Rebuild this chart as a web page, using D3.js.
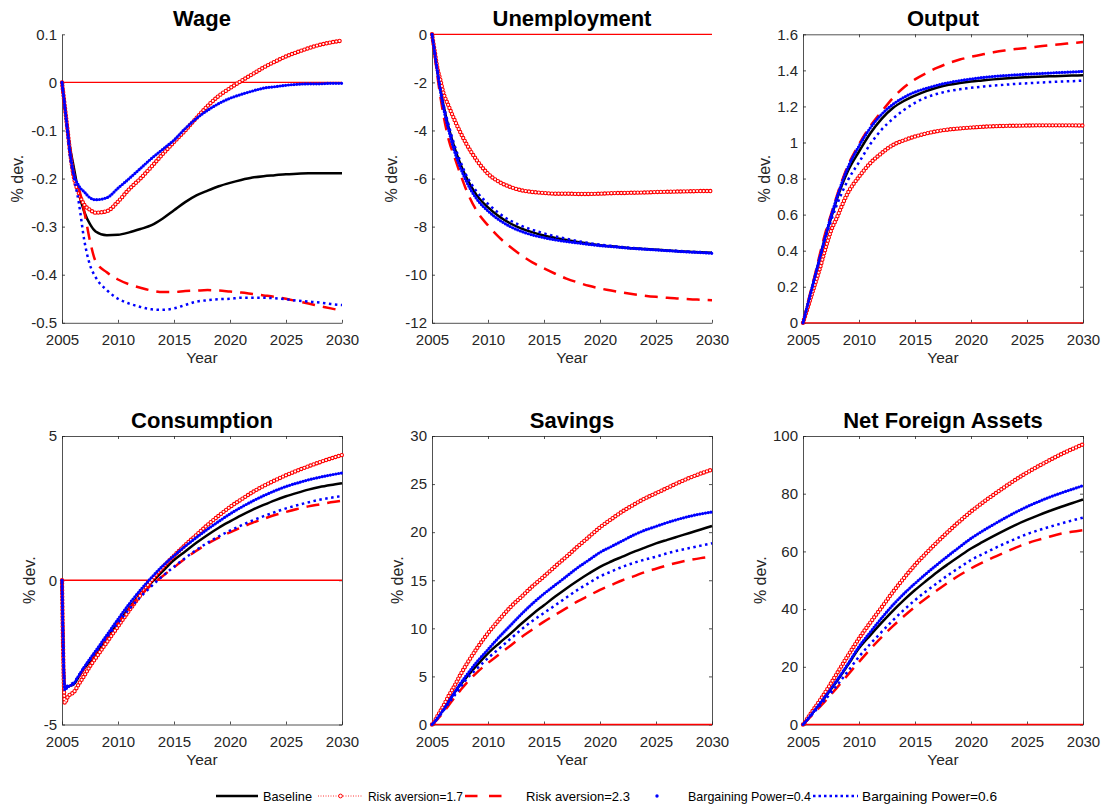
<!DOCTYPE html>
<html><head><meta charset="utf-8">
<script src="https://cdn.jsdelivr.net/npm/d3@7"></script>
<style>
body{margin:0;background:#fff}
svg{display:block}
text{font-family:"Liberation Sans",Arial,Helvetica,sans-serif}
</style>
</head><body>
<svg id="chart" width="1103" height="807"></svg>
<script>
// ---------------- DATA ----------------
const years = [2005, 2005.25, 2005.5, 2005.75, 2006, 2006.5, 2007, 2007.5, 2008,
  2009, 2010, 2011, 2012, 2013, 2014, 2015, 2016, 2017, 2018, 2019, 2020,
  2021, 2022, 2023, 2024, 2025, 2026, 2027, 2028, 2029, 2030];
const xTicks = [2005, 2010, 2015, 2020, 2025, 2030];
const seriesNames = ["Baseline", "Risk aversion=1.7", "Risk aversion=2.3", "Bargaining Power=0.4", "Bargaining Power=0.6"];
const panelTitles = ["Wage", "Unemployment", "Output", "Consumption", "Savings", "Net Foreign Assets"];
const yLabel = "% dev.";
const xLabel = "Year";

// Wage
const wageBase = [0,-0.05,-0.1,-0.14,-0.17,-0.23,-0.27,-0.295,-0.31,-0.318,-0.317,-0.312,-0.305,-0.297,-0.283,-0.266,-0.249,-0.235,-0.225,-0.216,-0.209,-0.203,-0.198,-0.195,-0.193,-0.191,-0.19,-0.189,-0.189,-0.189,-0.189];
const wageRA17 = [0,-0.05,-0.1,-0.15,-0.19,-0.23,-0.255,-0.265,-0.271,-0.268,-0.248,-0.222,-0.2,-0.175,-0.149,-0.124,-0.1,-0.074,-0.049,-0.028,-0.012,0.003,0.017,0.031,0.043,0.054,0.063,0.071,0.078,0.083,0.087];
const wageRA23 = [0,-0.05,-0.1,-0.15,-0.185,-0.22,-0.27,-0.33,-0.372,-0.395,-0.41,-0.42,-0.427,-0.433,-0.436,-0.436,-0.434,-0.433,-0.432,-0.433,-0.435,-0.437,-0.44,-0.443,-0.446,-0.45,-0.455,-0.46,-0.465,-0.47,-0.475];
const wageBP04 = [0,-0.05,-0.1,-0.15,-0.185,-0.215,-0.228,-0.24,-0.244,-0.24,-0.22,-0.2,-0.179,-0.158,-0.139,-0.12,-0.096,-0.075,-0.058,-0.044,-0.033,-0.025,-0.018,-0.012,-0.009,-0.006,-0.004,-0.003,-0.003,-0.002,-0.002];
const wageBP06 = [0,-0.05,-0.11,-0.16,-0.19,-0.25,-0.33,-0.38,-0.405,-0.432,-0.45,-0.46,-0.467,-0.472,-0.473,-0.47,-0.463,-0.456,-0.453,-0.451,-0.45,-0.448,-0.448,-0.448,-0.449,-0.451,-0.454,-0.456,-0.458,-0.461,-0.463];
const wageTicks = [-0.5,-0.4,-0.3,-0.2,-0.1,0,0.1];

// Unemployment
const unempBase = [0,-0.8,-1.6,-2.3,-2.9,-3.9,-4.7,-5.35,-5.9,-6.7,-7.2,-7.58,-7.87,-8.08,-8.24,-8.37,-8.47,-8.56,-8.64,-8.71,-8.77,-8.82,-8.86,-8.9,-8.93,-8.96,-8.99,-9.02,-9.04,-9.07,-9.09];
const unempRA17 = [0,-0.73,-1.45,-1.9,-2.4,-3.0,-3.55,-4.05,-4.5,-5.24,-5.8,-6.14,-6.35,-6.49,-6.56,-6.6,-6.63,-6.63,-6.64,-6.64,-6.63,-6.61,-6.6,-6.59,-6.58,-6.56,-6.55,-6.54,-6.53,-6.52,-6.52];
const unempRA23 = [0,-0.9,-1.8,-2.6,-3.3,-4.4,-5.1,-5.78,-6.4,-7.35,-7.95,-8.45,-8.85,-9.2,-9.5,-9.74,-9.96,-10.16,-10.32,-10.46,-10.57,-10.66,-10.74,-10.81,-10.87,-10.92,-10.96,-10.99,-11.02,-11.04,-11.06];
const unempBP04 = [0,-0.8,-1.6,-2.35,-3.0,-4.0,-4.85,-5.5,-6.05,-6.85,-7.35,-7.72,-8.0,-8.2,-8.35,-8.46,-8.55,-8.62,-8.68,-8.74,-8.79,-8.83,-8.87,-8.91,-8.94,-8.97,-9.0,-9.03,-9.06,-9.08,-9.11];
const unempBP06 = [0,-0.75,-1.55,-2.25,-2.85,-3.8,-4.6,-5.25,-5.8,-6.55,-7.05,-7.45,-7.75,-7.97,-8.14,-8.28,-8.4,-8.5,-8.6,-8.68,-8.75,-8.8,-8.85,-8.89,-8.93,-8.96,-8.99,-9.01,-9.04,-9.06,-9.08];
const unempTicks = [-12,-10,-8,-6,-4,-2,0];

// Output
const outBase = [0,0.06,0.12,0.18,0.24,0.36,0.48,0.58,0.68,0.84,0.95,1.05,1.13,1.19,1.23,1.26,1.285,1.305,1.32,1.33,1.338,1.344,1.35,1.355,1.359,1.362,1.365,1.367,1.369,1.371,1.373];
const outRA17 = [0,0.05,0.1,0.15,0.2,0.3,0.41,0.51,0.58,0.72,0.81,0.885,0.94,0.985,1.012,1.033,1.05,1.063,1.072,1.078,1.083,1.087,1.09,1.092,1.093,1.094,1.095,1.095,1.095,1.095,1.094];
const outRA23 = [0,0.065,0.13,0.19,0.25,0.38,0.5,0.6,0.7,0.87,0.99,1.09,1.17,1.245,1.305,1.35,1.385,1.415,1.44,1.46,1.475,1.488,1.5,1.51,1.518,1.525,1.532,1.539,1.545,1.551,1.557];
const outBP04 = [0,0.06,0.12,0.18,0.24,0.36,0.48,0.59,0.69,0.86,0.98,1.08,1.155,1.21,1.25,1.28,1.3,1.318,1.332,1.343,1.352,1.36,1.366,1.371,1.375,1.379,1.382,1.385,1.388,1.391,1.394];
const outBP06 = [0,0.06,0.12,0.18,0.24,0.36,0.47,0.565,0.65,0.79,0.89,0.99,1.07,1.13,1.18,1.22,1.25,1.27,1.285,1.295,1.303,1.31,1.316,1.32,1.325,1.328,1.332,1.335,1.338,1.34,1.343];
const outTicks = [0,0.2,0.4,0.6,0.8,1,1.2,1.4,1.6];

// Consumption
const consBase = [0,-3.75,-3.7,-3.65,-3.62,-3.35,-3.05,-2.8,-2.55,-2.02,-1.48,-0.95,-0.48,-0.07,0.32,0.7,1.0,1.3,1.57,1.82,2.04,2.25,2.44,2.61,2.77,2.91,3.03,3.14,3.23,3.3,3.36];
const consRA17 = [0,-4.25,-4.05,-3.95,-3.9,-3.6,-3.3,-2.98,-2.7,-2.15,-1.6,-1.05,-0.52,0.0,0.45,0.85,1.22,1.57,1.92,2.24,2.54,2.8,3.05,3.27,3.46,3.64,3.8,3.95,4.09,4.22,4.34];
const consRA23 = [0,-3.75,-3.7,-3.65,-3.6,-3.35,-3.05,-2.78,-2.5,-1.98,-1.47,-0.98,-0.53,-0.15,0.15,0.45,0.75,1.02,1.27,1.48,1.66,1.83,1.99,2.13,2.26,2.37,2.47,2.56,2.63,2.7,2.76];
const consBP04 = [0,-3.8,-3.7,-3.65,-3.6,-3.3,-3.0,-2.72,-2.45,-1.9,-1.35,-0.82,-0.34,0.1,0.5,0.85,1.18,1.48,1.77,2.04,2.3,2.53,2.74,2.93,3.1,3.25,3.37,3.48,3.57,3.65,3.72];
const consBP06 = [0,-3.7,-3.65,-3.6,-3.55,-3.3,-3.0,-2.75,-2.5,-1.98,-1.48,-1.0,-0.58,-0.2,0.15,0.47,0.77,1.05,1.3,1.52,1.72,1.9,2.07,2.22,2.36,2.49,2.6,2.7,2.79,2.86,2.92];
const consTicks = [-5,0,5];

// Savings
const savBase = [0,0.3,0.7,1.1,1.5,2.4,3.3,4.1,4.8,6.15,7.4,8.45,9.45,10.5,11.5,12.4,13.3,14.15,14.95,15.7,16.4,16.95,17.45,17.95,18.4,18.83,19.2,19.56,19.92,20.28,20.64];
const savRA17 = [0,0.4,0.9,1.4,1.9,3.0,4.0,5.1,6.1,7.9,9.5,10.9,12.2,13.3,14.4,15.4,16.45,17.45,18.5,19.5,20.5,21.35,22.15,22.85,23.5,24.05,24.6,25.15,25.65,26.1,26.5];
const savRA23 = [0,0.25,0.55,0.9,1.25,2.0,2.8,3.5,4.2,5.4,6.4,7.3,8.2,9.1,9.9,10.7,11.4,12.1,12.8,13.4,14.0,14.5,15.0,15.4,15.85,16.2,16.55,16.85,17.1,17.3,17.45];
const savBP04 = [0,0.3,0.7,1.1,1.5,2.4,3.3,4.2,5.0,6.5,7.8,9.1,10.3,11.5,12.6,13.6,14.5,15.4,16.3,17.1,17.9,18.5,19.1,19.7,20.2,20.6,21.0,21.35,21.65,21.9,22.1];
const savBP06 = [0,0.3,0.65,1.0,1.4,2.2,3.0,3.8,4.6,5.8,6.9,7.9,8.9,9.9,10.8,11.6,12.4,13.2,14.0,14.7,15.4,15.9,16.4,16.8,17.15,17.45,17.8,18.1,18.35,18.6,18.85];
const savTicks = [0,5,10,15,20,25,30];

// Net Foreign Assets
const nfaBase = [0,1.1,2.3,3.5,4.7,7.1,9.6,12.2,14.9,20.6,26.4,30.9,35.2,39.3,43.1,46.6,49.8,52.9,55.7,58.4,61.0,63.2,65.3,67.3,69.2,70.9,72.5,74.0,75.4,76.7,78.0];
const nfaRA17 = [0,1.3,2.7,4.1,5.5,8.3,11.2,14.3,17.5,23.8,29.8,35.3,40.5,45.8,50.7,55.3,59.4,63.3,67.0,70.5,73.8,76.8,79.6,82.3,84.9,87.3,89.5,91.6,93.6,95.4,97.1];
const nfaRA23 = [0,1.0,2.0,3.0,4.0,6.1,8.2,10.4,12.6,17.2,21.7,26.1,30.2,34.0,37.5,40.8,43.8,46.6,49.3,51.8,54.1,56.1,57.9,59.6,61.3,62.8,64.0,65.1,66.1,66.8,67.4];
const nfaBP04 = [0,1.1,2.3,3.5,4.7,7.2,9.8,12.4,15.1,20.9,27.0,32.0,36.8,41.3,45.3,48.9,52.3,55.5,58.6,61.6,64.5,67.0,69.3,71.5,73.6,75.5,77.2,78.8,80.2,81.5,82.8];
const nfaBP06 = [0,1.0,2.1,3.2,4.3,6.5,8.7,11.0,13.4,18.4,23.5,27.9,32.0,36.0,39.7,43.1,46.2,49.1,51.9,54.5,57.0,59.0,60.9,62.7,64.4,66.0,67.3,68.5,69.6,70.7,71.7];
const nfaTicks = [0,20,40,60,80,100];

// ---------------- LAYOUT ----------------
const colLeft = [62, 432, 803];
const rowTop = [34.3, 436];
const plotW = 280, plotH = 288.5;

const panels = [
  {title: panelTitles[0], series: [wageBase, wageRA17, wageRA23, wageBP04, wageBP06], dom: [-0.5, 0.1], ticks: wageTicks, col: 0, row: 0, box: false, ylabX: 23},
  {title: panelTitles[1], series: [unempBase, unempRA17, unempRA23, unempBP04, unempBP06], dom: [-12, 0], ticks: unempTicks, col: 1, row: 0, box: false, ylabX: 397},
  {title: panelTitles[2], series: [outBase, outRA17, outRA23, outBP04, outBP06], dom: [0, 1.6], ticks: outTicks, col: 2, row: 0, box: true, ylabX: 770},
  {title: panelTitles[3], series: [consBase, consRA17, consRA23, consBP04, consBP06], dom: [-5, 5], ticks: consTicks, col: 0, row: 1, box: true, ylabX: 35},
  {title: panelTitles[4], series: [savBase, savRA17, savRA23, savBP04, savBP06], dom: [0, 30], ticks: savTicks, col: 1, row: 1, box: true, ylabX: 403},
  {title: panelTitles[5], series: [nfaBase, nfaRA17, nfaRA23, nfaBP04, nfaBP06], dom: [0, 100], ticks: nfaTicks, col: 2, row: 1, box: true, ylabX: 766}
];

const AX = "#262626";
const RED = "#ff0000", BLUE = "#0000ff";
const svg = d3.select("#chart");
const fmt = d => String(+d.toFixed(2));

function styleAxis(g) {
  g.selectAll("path, line").attr("stroke", AX).attr("stroke-width", 0.8);
  g.selectAll("text").attr("fill", AX).attr("font-size", 15)
    .attr("font-family", '"Liberation Sans", Arial, sans-serif');
}

function drawSeries(g, line, pts, k) {
  const d = line(pts);
  if (k === 0) {
    g.append("path").attr("d", d).attr("fill", "none").attr("stroke", "#000").attr("stroke-width", 2.5);
  } else if (k === 1) {
    g.append("path").attr("d", d).attr("fill", "none").attr("stroke", RED).attr("stroke-width", 0.7).attr("stroke-dasharray", "1 1.5");
    g.append("path").attr("d", d).attr("fill", "none").attr("stroke", RED).attr("stroke-width", 4.4)
      .attr("stroke-linecap", "round").attr("stroke-dasharray", "0 3.3");
    g.append("path").attr("d", d).attr("fill", "none").attr("stroke", "#fff").attr("stroke-width", 2.2)
      .attr("stroke-linecap", "round").attr("stroke-dasharray", "0 3.3");
  } else if (k === 2) {
    g.append("path").attr("d", d).attr("fill", "none").attr("stroke", RED).attr("stroke-width", 2.5).attr("stroke-dasharray", "13 8");
  } else if (k === 3) {
    g.append("path").attr("d", d).attr("fill", "none").attr("stroke", BLUE).attr("stroke-width", 3.2)
      .attr("stroke-linecap", "round").attr("stroke-dasharray", "0 2.8");
  } else {
    g.append("path").attr("d", d).attr("fill", "none").attr("stroke", BLUE).attr("stroke-width", 2.5).attr("stroke-dasharray", "2.5 3.5");
  }
}

panels.forEach(p => {
  const left = colLeft[p.col], top = rowTop[p.row];
  const right = left + plotW, bottom = top + plotH;
  const x = d3.scaleLinear().domain([2005, 2030]).range([left, right]);
  const y = d3.scaleLinear().domain(p.dom).range([bottom, top]);
  const g = svg.append("g");

  // axes
  g.append("g").attr("transform", `translate(0,${bottom})`)
    .call(d3.axisBottom(x).tickValues(xTicks).tickSize(-3).tickSizeOuter(0).tickPadding(11.5).tickFormat(d3.format("d")))
    .call(styleAxis);
  g.append("g").attr("transform", `translate(${left},0)`)
    .call(d3.axisLeft(y).tickValues(p.ticks).tickSize(-3).tickSizeOuter(0).tickPadding(5).tickFormat(fmt))
    .call(styleAxis);
  if (p.box) {
    g.append("g").attr("transform", `translate(0,${top})`)
      .call(d3.axisTop(x).tickValues(xTicks).tickSize(-3).tickSizeOuter(0).tickFormat(""))
      .call(styleAxis);
    g.append("g").attr("transform", `translate(${right},0)`)
      .call(d3.axisRight(y).tickValues(p.ticks).tickSize(-3).tickSizeOuter(0).tickFormat(""))
      .call(styleAxis);
  }

  // zero line
  g.append("line").attr("x1", x(2005)).attr("x2", x(2030)).attr("y1", y(0)).attr("y2", y(0))
    .attr("stroke", RED).attr("stroke-width", 1.3);

  const line = d3.line().x(d => x(d[0])).y(d => y(d[1])).curve(d3.curveMonotoneX);
  p.series.forEach((vals, k) => {
    const pts = years.map((t, i) => [t, vals[i]]);
    drawSeries(g, line, pts, k);
  });

  // title
  g.append("text").attr("x", (left + right) / 2).attr("y", top - 8.3)
    .attr("text-anchor", "middle").attr("font-weight", "bold").attr("font-size", 22).attr("fill", "#000").text(p.title);
  // x label
  g.append("text").attr("x", (left + right) / 2).attr("y", bottom + 40.5)
    .attr("text-anchor", "middle").attr("font-size", 15.5).attr("fill", AX).text(xLabel);
  // y label
  g.append("text").attr("transform", `translate(${p.ylabX},${(top + bottom) / 2}) rotate(-90)`)
    .attr("text-anchor", "middle").attr("font-size", 16).attr("fill", AX).text(yLabel);
});

// ---------------- LEGEND ----------------
const legY = 796;
const legItems = [
  {x0: 216, x1: 258, tx: 263, tw: 49},
  {x0: 318, x1: 363, tx: 368, tw: 95},
  {x0: 465, x1: 513, tx: 526, tw: 104},
  {x0: 657, x1: 657, tx: 688, tw: 123},
  {x0: 813, x1: 858, tx: 862, tw: 135}
];
const lg = svg.append("g");
legItems.forEach((it, k) => {
  if (k === 0) {
    lg.append("line").attr("x1", it.x0).attr("x2", it.x1).attr("y1", legY).attr("y2", legY).attr("stroke", "#000").attr("stroke-width", 2.5);
  } else if (k === 1) {
    lg.append("line").attr("x1", it.x0).attr("x2", it.x1).attr("y1", legY).attr("y2", legY).attr("stroke", RED).attr("stroke-width", 0.8).attr("stroke-dasharray", "1 1.5");
    lg.append("circle").attr("cx", (it.x0 + it.x1) / 2).attr("cy", legY).attr("r", 1.9).attr("fill", "#fff").attr("stroke", RED).attr("stroke-width", 1);
  } else if (k === 2) {
    lg.append("line").attr("x1", it.x0).attr("x2", it.x1).attr("y1", legY).attr("y2", legY).attr("stroke", RED).attr("stroke-width", 2.5).attr("stroke-dasharray", "12.5 11.5");
  } else if (k === 3) {
    lg.append("circle").attr("cx", it.x0).attr("cy", legY).attr("r", 1.7).attr("fill", BLUE);
  } else {
    lg.append("line").attr("x1", it.x0).attr("x2", it.x1).attr("y1", legY).attr("y2", legY).attr("stroke", BLUE).attr("stroke-width", 2.5).attr("stroke-dasharray", "2.5 3");
  }
  lg.append("text").attr("x", it.tx).attr("y", legY + 5).attr("font-size", 13).attr("fill", "#000")
    .attr("textLength", it.tw).attr("lengthAdjust", "spacingAndGlyphs").text(seriesNames[k]);
});
</script>
</body></html>
